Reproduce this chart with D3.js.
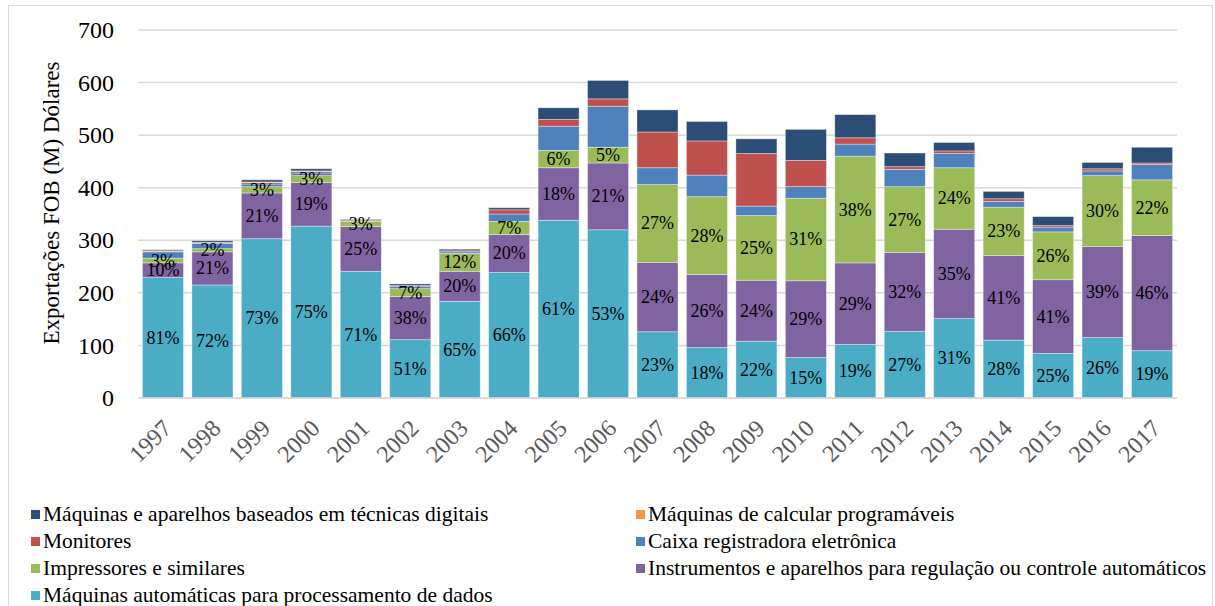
<!DOCTYPE html>
<head>
<meta charset="utf-8">
<style>
body {
  margin: 0;
  background: #fff;
  font-family: "Liberation Serif", "Times New Roman", serif;
}
.grid line {
  stroke: #d9d9d9;
  stroke-width: 1.5px;
}
</style>
</head>
<body>
<script src="https://d3js.org/d3.v7.min.js"></script>
<script>
// years on the x axis
var years = ["1997","1998","1999","2000","2001","2002","2003","2004","2005","2006","2007",
             "2008","2009","2010","2011","2012","2013","2014","2015","2016","2017"];

// series values (M US$)
var automaticas  = [229,215,303,327,241,111,184,239,338,320,126, 96,108, 77,102,127,151,110, 85,115, 90];
var instrumentos = [ 28, 63, 87, 83, 85, 82, 57, 72,100,127,132,139,116,146,155,150,170,161,140,173,219];
var impressores  = [  9,  6, 12, 13, 10, 15, 34, 25, 33, 30,148,148,123,157,203,125,117, 92, 91,135,106];
var caixa        = [ 12, 10,  5,  5,  1,  4,  3, 14, 46, 78, 32, 41, 18, 22, 23, 33, 27, 11,  9,  9, 29];
var monitores    = [  1,  1,  3,  3,  2,  2,  2,  8, 13, 14, 68, 65,100, 50, 12,  5,  5,  5,  3,  4,  3];
var calcular     = [  1,  1,  1,  1,  0,  0,  0,  0,  0,  0,  0,  0,  0,  0,  0,  0,  0,  0,  0,  0,  0];
var digitais     = [  2,  3,  4,  4,  1,  3,  3,  4, 22, 35, 42, 37, 28, 59, 44, 26, 16, 14, 17, 12, 30];

var yTicks = [0,100,200,300,400,500,600,700];

var series = [
  {key: "aut",  name: "Máquinas automáticas para processamento de dados", values: automaticas,  color: "#4BACC6", label: true},
  {key: "ins",  name: "Instrumentos e aparelhos para regulação ou controle automáticos", values: instrumentos, color: "#8064A2", label: true},
  {key: "imp",  name: "Impressores e similares", values: impressores, color: "#9BBB59", label: true},
  {key: "cai",  name: "Caixa registradora eletrônica", values: caixa, color: "#4F81BD", label: false},
  {key: "mon",  name: "Monitores", values: monitores, color: "#C0504D", label: false},
  {key: "cal",  name: "Máquinas de calcular programáveis", values: calcular, color: "#F79646", label: false},
  {key: "dig",  name: "Máquinas e aparelhos baseados em técnicas digitais", values: digitais, color: "#2C4D75", label: false}
];

// legend order as in the picture (two columns, row by row)
var legendOrder = ["dig","cal","mon","cai","imp","ins","aut"];

var W = 1215, H = 606;
var plot = {left: 138, right: 1177, top: 30, bottom: 398};

var rows = years.map(function(y, i) {
  var r = {year: y};
  series.forEach(function(s) { r[s.key] = s.values[i]; });
  r.total = d3.sum(series, function(s) { return s.values[i]; });
  return r;
});

var svg = d3.select("body").append("svg")
  .attr("width", W)
  .attr("height", H);

// outer frame
svg.append("rect")
  .attr("x", 8.5).attr("y", 5.5)
  .attr("width", 1204).attr("height", 610)
  .attr("fill", "none")
  .attr("stroke", "#d9d9d9");

var x = d3.scaleBand()
  .domain(years)
  .range([plot.left, plot.right])
  .paddingInner(0.17)
  .paddingOuter(0.09);

var y = d3.scaleLinear()
  .domain([0, 700])
  .range([plot.bottom, plot.top]);

// gridlines
svg.append("g").attr("class", "grid")
  .selectAll("line")
  .data(yTicks)
  .join("line")
  .attr("x1", plot.left).attr("x2", plot.right)
  .attr("y1", function(d) { return y(d); })
  .attr("y2", function(d) { return y(d); });

// y axis labels
var yAxis = svg.append("g")
  .attr("transform", "translate(" + (plot.left - 24) + ",0)")
  .call(d3.axisLeft(y).tickValues(yTicks).tickSize(0).tickPadding(0));
yAxis.select(".domain").remove();
yAxis.selectAll("text")
  .attr("font-family", "Liberation Serif")
  .attr("font-size", 24)
  .attr("fill", "#000");

svg.append("text")
  .attr("transform", "translate(59,203) rotate(-90)")
  .attr("text-anchor", "middle")
  .attr("font-size", 23)
  .attr("fill", "#000")
  .text("Exportações FOB (M) Dólares");

// stacked bars
var stack = d3.stack().keys(series.map(function(s) { return s.key; }));
var layers = stack(rows);

var layerG = svg.append("g").selectAll("g")
  .data(layers)
  .join("g")
  .attr("fill", function(d, i) { return series[i].color; });

layerG.selectAll("rect")
  .data(function(d) { return d; })
  .join("rect")
  .attr("x", function(d) { return x(d.data.year); })
  .attr("width", x.bandwidth())
  .attr("y", function(d) { return y(d[1]); })
  .attr("height", function(d) { return y(d[0]) - y(d[1]); })
  .attr("stroke", "rgba(255,255,255,0.45)")
  .attr("stroke-width", 0.8);

// percentage labels
layers.forEach(function(layer, i) {
  if (!series[i].label) return;
  svg.append("g").selectAll("text")
    .data(layer)
    .join("text")
    .attr("x", function(d) { return x(d.data.year) + x.bandwidth() / 2; })
    .attr("y", function(d) { return y((d[0] + d[1]) / 2) + 6; })
    .attr("text-anchor", "middle")
    .attr("font-size", 18)
    .attr("fill", "#000")
    .text(function(d) { return Math.round((d[1] - d[0]) / d.data.total * 100) + "%"; });
});

// baseline
svg.append("line")
  .attr("x1", plot.left).attr("x2", plot.right)
  .attr("y1", plot.bottom).attr("y2", plot.bottom)
  .attr("stroke", "#d9d9d9")
  .attr("stroke-width", 1.5);

// x labels
var xAxis = svg.append("g")
  .attr("transform", "translate(0," + (plot.bottom + 20) + ")")
  .call(d3.axisBottom(x).tickSize(0).tickPadding(0));
xAxis.select(".domain").remove();
xAxis.selectAll("text")
  .attr("font-family", "Liberation Serif")
  .attr("font-size", 24)
  .attr("fill", "#595959")
  .attr("text-anchor", "end")
  .attr("dy", "0.7em")
  .attr("transform", "translate(-2,0) rotate(-45)");

// legend
var legend = svg.append("g");
legendOrder.forEach(function(k, i) {
  var s = series.find(function(d) { return d.key === k; });
  var col = i % 2, row = Math.floor(i / 2);
  var lx = col === 0 ? 31 : 636, ly = 515 + row * 27;
  legend.append("rect")
    .attr("x", lx).attr("y", ly - 5)
    .attr("width", 9).attr("height", 9)
    .attr("fill", s.color);
  legend.append("text")
    .attr("x", lx + 12).attr("y", ly + 6)
    .attr("font-size", 21.5)
    .attr("fill", "#000")
    .text(s.name);
});
</script>
</body>
